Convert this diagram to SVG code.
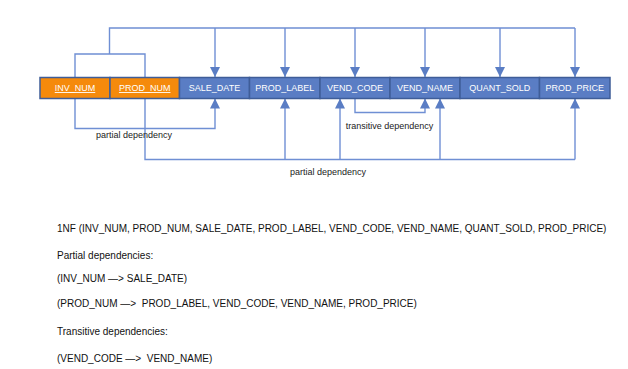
<svg xmlns="http://www.w3.org/2000/svg" width="628" height="369" viewBox="0 0 628 369">
  <style>
    .cell { stroke: #3F5D98; stroke-width: 1.5; }
    .key { fill: #F58A0C; }
    .attr { fill: #5A7DC4; }
    .lbl { font-family: "Liberation Sans", Arial, sans-serif; font-size: 9px; fill: #FFFFFF; text-anchor: middle; }
    .key-lbl { text-decoration: underline; }
    .wire { fill: none; stroke: #6F8FD4; stroke-width: 1.4; }
    .note { font-family: "Liberation Sans", Arial, sans-serif; font-size: 9px; fill: #222222; text-anchor: middle; }
    .body { font-family: "Liberation Sans", Arial, sans-serif; font-size: 10px; fill: #111111; white-space: pre; }
  </style>
  <defs>
    <marker id="arrow" viewBox="0 0 10 10" refX="10" refY="5" markerWidth="10" markerHeight="11" markerUnits="userSpaceOnUse" orient="auto">
      <path d="M0,0 L10,5 L0,10 Z" fill="#5A7DC4"/>
    </marker>
  </defs>

  <rect width="628" height="369" fill="#FFFFFF"/>

  <!-- connectors -->
  <g id="connectors">
    <!-- full dependency from the composite key -->
    <path class="wire" d="M75,77 V54 H145 V77"/>
    <path class="wire" d="M109.5,54 V28 H575"/>
    <path class="wire" d="M215,28 V77" marker-end="url(#arrow)"/>
    <path class="wire" d="M285,28 V77" marker-end="url(#arrow)"/>
    <path class="wire" d="M355,28 V77" marker-end="url(#arrow)"/>
    <path class="wire" d="M425,28 V77" marker-end="url(#arrow)"/>
    <path class="wire" d="M500,28 V77" marker-end="url(#arrow)"/>
    <path class="wire" d="M575,28 V77" marker-end="url(#arrow)"/>

    <!-- INV_NUM -> SALE_DATE -->
    <path class="wire" d="M75,98.5 V128.5 H215 V98.5" marker-end="url(#arrow)"/>

    <!-- PROD_NUM -> PROD_LABEL, VEND_CODE, VEND_NAME, PROD_PRICE -->
    <path class="wire" d="M145,98.5 V159.5 H575"/>
    <path class="wire" d="M285,159.5 V98.5" marker-end="url(#arrow)"/>
    <path class="wire" d="M340,159.5 V98.5" marker-end="url(#arrow)"/>
    <path class="wire" d="M440,159.5 V98.5" marker-end="url(#arrow)"/>
    <path class="wire" d="M575,159.5 V98.5" marker-end="url(#arrow)"/>

    <!-- VEND_CODE -> VEND_NAME -->
    <path class="wire" d="M355,98.5 V112.5 H425 V98.5" marker-end="url(#arrow)"/>

    <text class="note" x="134" y="138">partial dependency</text>
    <text class="note" x="389.5" y="129">transitive dependency</text>
    <text class="note" x="328" y="174.5">partial dependency</text>
  </g>

  <!-- attribute cells -->
  <g id="inv_num"><rect class="cell key" x="40" y="77.5" width="70" height="21"/><text class="lbl key-lbl" x="75" y="91">INV_NUM</text></g>
  <g id="prod_num"><rect class="cell key" x="110" y="77.5" width="69.5" height="21"/><text class="lbl key-lbl" x="144.7" y="91">PROD_NUM</text></g>
  <g id="sale_date"><rect class="cell attr" x="179.5" y="77.5" width="70" height="21"/><text class="lbl" x="214.5" y="91">SALE_DATE</text></g>
  <g id="prod_label"><rect class="cell attr" x="249.5" y="77.5" width="70.5" height="21"/><text class="lbl" x="284.7" y="91">PROD_LABEL</text></g>
  <g id="vend_code"><rect class="cell attr" x="320" y="77.5" width="70" height="21"/><text class="lbl" x="355" y="91">VEND_CODE</text></g>
  <g id="vend_name"><rect class="cell attr" x="390" y="77.5" width="70" height="21"/><text class="lbl" x="425" y="91">VEND_NAME</text></g>
  <g id="quant_sold"><rect class="cell attr" x="460" y="77.5" width="79.5" height="21"/><text class="lbl" x="499.7" y="91">QUANT_SOLD</text></g>
  <g id="prod_price"><rect class="cell attr" x="539.5" y="77.5" width="70.5" height="21"/><text class="lbl" x="574.7" y="91">PROD_PRICE</text></g>

  <!-- relation notation -->
  <g id="notes">
    <text class="body" x="57" y="231.5">1NF (INV_NUM, PROD_NUM, SALE_DATE, PROD_LABEL, VEND_CODE, VEND_NAME, QUANT_SOLD, PROD_PRICE)</text>
    <text class="body" x="57" y="259">Partial dependencies:</text>
    <text class="body" x="57" y="282">(INV_NUM —&gt; SALE_DATE)</text>
    <text class="body" x="57" y="307">(PROD_NUM —&gt;  PROD_LABEL, VEND_CODE, VEND_NAME, PROD_PRICE)</text>
    <text class="body" x="57" y="334.5">Transitive dependencies:</text>
    <text class="body" x="57" y="362">(VEND_CODE —&gt;  VEND_NAME)</text>
  </g>
</svg>
